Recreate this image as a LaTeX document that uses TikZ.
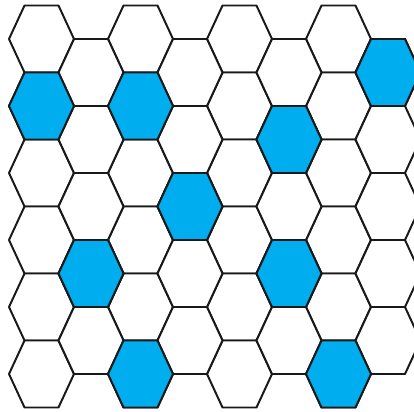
\documentclass[tikz,border=0pt]{standalone}
\definecolor{cellblue}{RGB}{0,174,239}
\tikzset{cell/.style={draw=black!90, line width=1.4pt, line join=round}}
% hexagon with centre (#1,#2), flat top
\newcommand{\hexpath}[2]{(#1-32.5,#2) -- (#1-17,#2-33.5) -- (#1+17,#2-33.5) -- (#1+32.5,#2) -- (#1+17,#2+33.5) -- (#1-17,#2+33.5) -- cycle}

\begin{document}
\begin{tikzpicture}[x=0.025cm, y=-0.025cm]
    \useasboundingbox (0,0) rectangle (414,412);
    \clip (0,0) rectangle (414,412);
    % even columns: six cells
    \foreach \c in {0,2,4,6} {
      \foreach \r in {0,...,5} {
        \draw[cell, fill=white] \hexpath{41.5+49.5*\c}{39+67*\r};
      }
    }
    % odd columns: five cells, shifted down
    \foreach \c in {1,3,5,7} {
      \foreach \r in {0,...,4} {
        \draw[cell, fill=white] \hexpath{41.5+49.5*\c}{72.5+67*\r};
      }
    }
    % coloured cells
    \foreach \c/\r in {0/1, 2/1, 2/5, 6/5} {
      \draw[cell, fill=cellblue] \hexpath{41.5+49.5*\c}{39+67*\r};
    }
    \foreach \c/\r in {7/0, 5/1, 3/2, 1/3, 5/3} {
      \draw[cell, fill=cellblue] \hexpath{41.5+49.5*\c}{72.5+67*\r};
    }
\end{tikzpicture}
\end{document}
